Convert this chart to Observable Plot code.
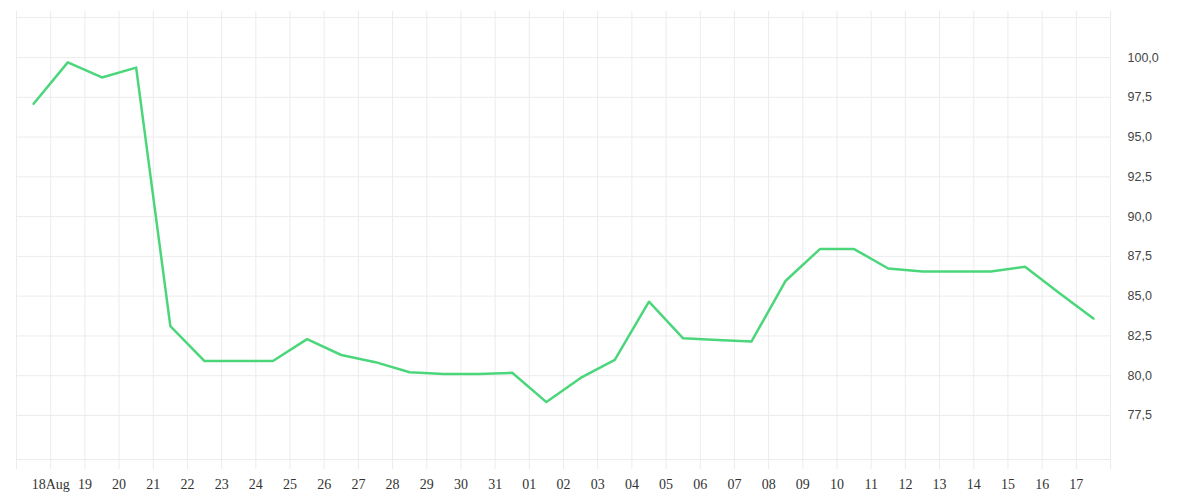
<!DOCTYPE html>
<html>
<head>
<meta charset="utf-8">
<script src="https://cdn.jsdelivr.net/npm/d3@7"></script>
<script src="https://cdn.jsdelivr.net/npm/@observablehq/plot@0.6"></script>
<style>
  html, body { margin: 0; padding: 0; background: #fff; }
  #chart { width: 1200px; height: 500px; }
</style>
</head>
<body>
<div id="chart"></div>
<script>
// Daily observations (plotted at midday of each day)
const days = [
  "2023-08-17","2023-08-18","2023-08-19","2023-08-20","2023-08-21","2023-08-22",
  "2023-08-23","2023-08-24","2023-08-25","2023-08-26","2023-08-27","2023-08-28",
  "2023-08-29","2023-08-30","2023-08-31","2023-09-01","2023-09-02","2023-09-03",
  "2023-09-04","2023-09-05","2023-09-06","2023-09-07","2023-09-08","2023-09-09",
  "2023-09-10","2023-09-11","2023-09-12","2023-09-13","2023-09-14","2023-09-15",
  "2023-09-16","2023-09-17"
];
const values = [
  97.1, 99.7, 98.75, 99.37, 83.12, 80.92,
  80.92, 80.92, 82.3, 81.3, 80.85, 80.22,
  80.11, 80.11, 80.18, 78.34, 79.86, 81.0,
  84.65, 82.35, 82.25, 82.15, 85.97, 87.96,
  87.96, 86.74, 86.55, 86.55, 86.55, 86.85,
  85.2, 83.6
];

// Axis ticks
const xGridDays = d3.utcDays(new Date(Date.UTC(2023, 7, 17)), new Date(Date.UTC(2023, 8, 19)));
const xTickDays = d3.utcDays(new Date(Date.UTC(2023, 7, 18)), new Date(Date.UTC(2023, 8, 18)));
const xFirstLabel = "18Aug";
const yTicks = [77.5, 80, 82.5, 85, 87.5, 90, 92.5, 95, 97.5, 100];
const yDomain = [74.73, 102.52];

const data = days.map((d, i) => ({date: new Date(d + "T12:00:00Z"), value: values[i]}));

const fmtDay = d3.utcFormat("%d");
const fmtY = v => v.toFixed(1).replace(".", ",");

const chart = Plot.plot({
  width: 1200,
  height: 500,
  marginLeft: 16,
  marginRight: 90,
  marginTop: 17,
  marginBottom: 41,
  style: {background: "#fff", overflow: "visible"},
  x: {type: "utc", domain: [xGridDays[0], xGridDays[xGridDays.length - 1]]},
  y: {domain: yDomain},
  marks: [
    Plot.ruleY(yTicks, {stroke: "#ececec", strokeWidth: 1}),
    Plot.frame({stroke: "#ececec", strokeWidth: 1}),
    Plot.ruleX(xGridDays, {stroke: "#ececec", strokeWidth: 1, insetTop: -6, insetBottom: -10}),
    Plot.axisX(xTickDays, {
      anchor: "bottom",
      tickSize: 0,
      tickPadding: 20,
      tickFormat: (d, i) => i === 0 ? xFirstLabel : fmtDay(d),
      fontSize: 14,
      fontFamily: "Liberation Serif, serif",
      fill: "#333",
      label: null
    }),
    Plot.axisY(yTicks, {
      anchor: "right",
      tickSize: 0,
      tickPadding: 17,
      tickFormat: fmtY,
      fontSize: 12.5,
      fontFamily: "Liberation Sans, sans-serif",
      fill: "#444",
      label: null
    }),
    Plot.line(data, {x: "date", y: "value", stroke: "#4cd67b", strokeWidth: 2.5, curve: "linear"})
  ]
});
document.getElementById("chart").appendChild(chart);
</script>
</body>
</html>
